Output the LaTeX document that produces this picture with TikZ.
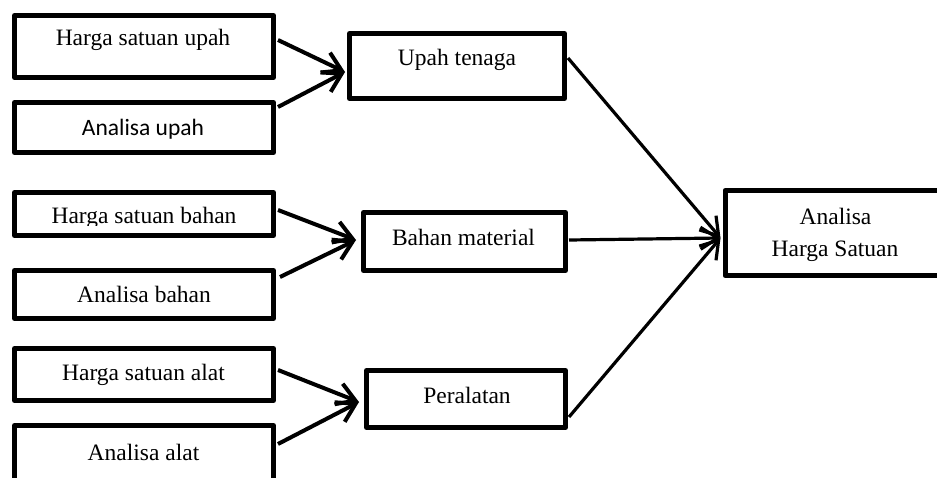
\documentclass[tikz,border=0pt]{standalone}
\usepackage{fontspec}
\setmainfont{Liberation Serif}
\newfontfamily\calfont{Carlito}
\usetikzlibrary{arrows.meta,calc}
\begin{document}
\begin{tikzpicture}[x=1pt,y=-1pt,
  box/.style={draw, line width=5pt, line join=round, rectangle, inner sep=0pt},
  txt/.style={anchor=base, inner sep=0pt, font=\fontsize{23.5}{32}\selectfont},
  inarrow/.style={line width=4pt, -{Straight Barb[length=18pt,width=22pt]}},
  outarrow/.style={line width=3.2pt, -{Straight Barb[length=17pt,width=22pt]}}]
\useasboundingbox (0,0) rectangle (937,477);
\fill[white] (0,0) rectangle (937,477);
% left boxes
\node[box, minimum width=259pt, minimum height=62pt] (b1) at (144,46.5) {};
\node[box, minimum width=259pt, minimum height=50pt] (b2) at (144,127.5) {};
\node[box, minimum width=259pt, minimum height=43pt] (b3) at (144,214) {};
\node[box, minimum width=259pt, minimum height=48pt] (b4) at (144,294.5) {};
\node[box, minimum width=259pt, minimum height=52pt] (b5) at (144,374.5) {};
\node[box, minimum width=259pt, minimum height=57pt] (b6) at (144,454) {};
% middle boxes
\node[box, minimum width=215pt, minimum height=65pt] (up) at (457,66) {};
\node[box, minimum width=202pt, minimum height=58pt] (bm) at (464.5,241.5) {};
\node[box, minimum width=199pt, minimum height=57pt] (pe) at (466,399) {};
% right box
\node[box, minimum width=230pt, minimum height=85pt] (ah) at (840,233) {};
% texts
\node[txt] (t1) at (143,45) {Harga satuan upah};
\node[txt, font=\calfont\fontsize{23.5}{32}\selectfont] (t2) at (143,135) {Analisa upah};
\begin{scope}
\clip (0,170) rectangle (300,225.5);
\node[txt] (t3) at (144,223) {Harga satuan bahan};
\end{scope}
\node[txt] (t4) at (144,302) {Analisa bahan};
\node[txt] (t5) at (143.5,380) {Harga satuan alat};
\node[txt] (t6) at (143.5,460) {Analisa alat};
\node[txt] (t7) at (457,65) {Upah tenaga};
\node[txt] (t8) at (463.5,245) {Bahan material};
\node[txt] (t9) at (467,403) {Peralatan};
\node[txt] (t10) at (835.5,224) {Analisa};
\node[txt] (t11) at (835,256) {Harga Satuan};
% arrows into middle boxes
\draw[inarrow] ($(b1.east)+(2,-6.5)$) -- ($(up.west)+(-2,6)$);
\draw[inarrow] ($(b2.east)+(2,-20.5)$) -- ($(up.west)+(-2,6)$);
\draw[inarrow] ($(b3.east)+(2,-4)$) -- ($(bm.west)+(-5,-1.5)$);
\draw[inarrow] ($(b4.east)+(4,-17.5)$) -- ($(bm.west)+(-5,-1.5)$);
\draw[inarrow] ($(b5.east)+(2,-4.5)$) -- ($(pe.west)+(-5,3)$);
\draw[inarrow] ($(b6.east)+(2,-10)$) -- ($(pe.west)+(-5,3)$);
% arrows into right box
\draw[outarrow] ($(up.east)+(1,-8)$) -- ($(ah.west)+(-2,5)$);
\draw[outarrow] ($(bm.east)+(1,-1.5)$) -- ($(ah.west)+(-2,5)$);
\draw[outarrow] ($(pe.east)+(1,18)$) -- ($(ah.west)+(-2,5)$);
\end{tikzpicture}
\end{document}
